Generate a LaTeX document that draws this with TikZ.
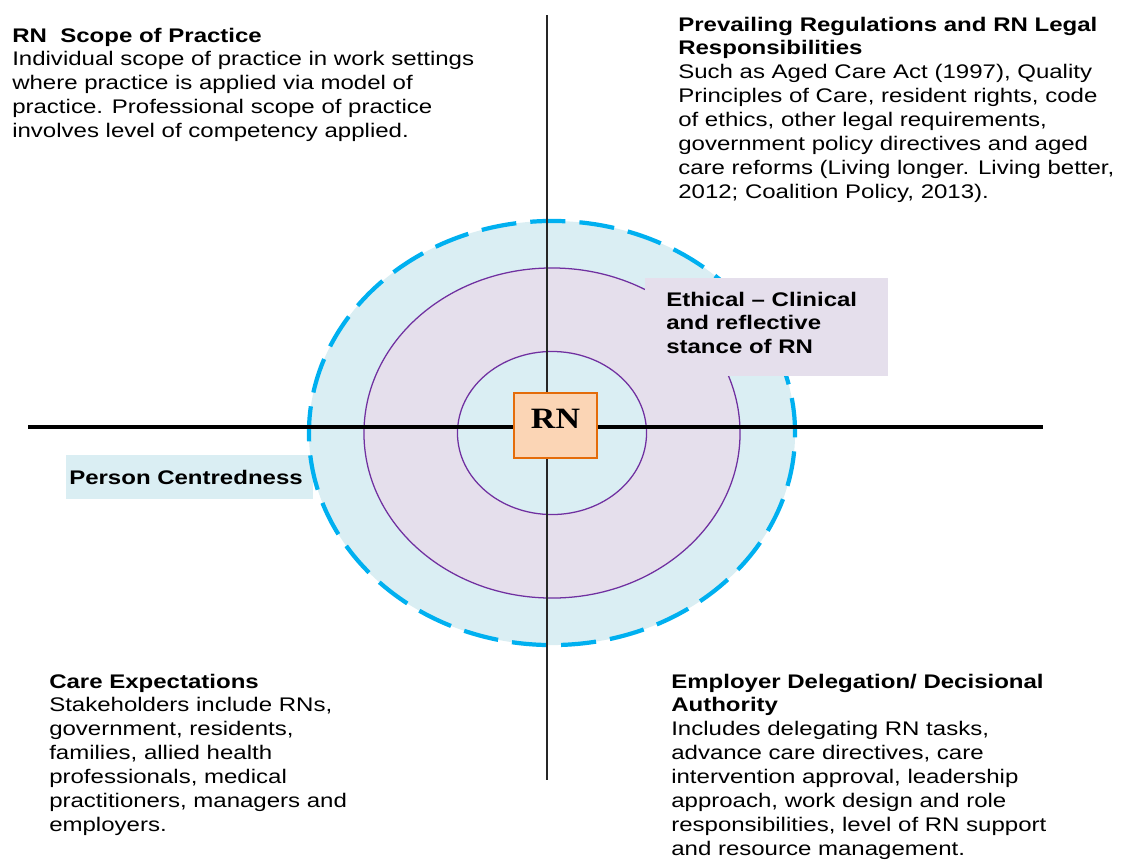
\documentclass[tikz,border=0pt]{standalone}
\usepackage{fontspec}
\setmainfont{Liberation Sans}[FakeStretch=1.22]
\newfontfamily\rnfont{Liberation Serif}[FakeStretch=1.15]
\usetikzlibrary{positioning}
\definecolor{ringblue}{HTML}{DAEEF3}
\definecolor{dashblue}{HTML}{00B0F0}
\definecolor{ringlilac}{HTML}{E5DFEC}
\definecolor{ringpurple}{HTML}{7030A0}
\definecolor{rnfill}{HTML}{FBD5B5}
\definecolor{rnline}{HTML}{E46C0A}
\tikzset{
	quadtext/.style={anchor=north west, inner sep=0pt, align=left, font=\fontsize{14}{17}\selectfont},
	tagbox/.style={inner ysep=0pt, align=left, font=\fontsize{14}{17}\selectfont\bfseries},
	ring/.style={draw=ringpurple, line width=0.9pt}
}

\begin{document}
\begin{tikzpicture}[x=0.025cm, y=-0.025cm]
			%%%%% START %%%%%
			\useasboundingbox (0, 0) rectangle (1128, 863);
			
			\node[tagbox, fill=ringblue, anchor=north west, inner xsep=0.075cm, text width=6.025cm, minimum height=1.1cm] (person) at (66, 455) {Person Centredness};
			
			\draw[fill=ringblue, draw=dashblue, line width=3pt, dash pattern=on 25pt off 10pt] (552, 433) ellipse [x radius=6.075cm, y radius=5.3cm];
			\draw[ring, fill=ringlilac] (552, 433) ellipse [x radius=4.7cm, y radius=4.125cm];
			\draw[ring, fill=ringblue] (552, 433) ellipse [x radius=2.3625cm, y radius=2.0375cm];
			
			\node[fill=ringlilac, anchor=north west, inner sep=0pt, minimum width=6.075cm, minimum height=2.45cm] (ethicbox) at (645, 278) {};
			\node[tagbox, anchor=north west, inner sep=0pt] (ethic) at (666, 291.5) {Ethical -- Clinical\\and reflective\\stance of RN};
			
			% axes
			\coordinate (west) at (28, 427);
			\coordinate (east) at (1043, 427);
			\coordinate (north) at (547, 15);
			\coordinate (south) at (547, 780);
			\draw[line width=2.4pt] (west) -- (east);
			\draw[line width=1.5pt, color=black!85] (north) -- (south);
			
			\node[draw=rnline, fill=rnfill, line width=1.5pt, minimum width=2.075cm, minimum height=1.625cm, text height=15pt, text depth=11.4pt, font=\rnfont\bfseries\fontsize{21}{21}\selectfont] (rn) at (555.5, 425.5) {RN};
			
			% quadrants
			\node[quadtext] (scope) at (12, 27.5) {\textbf{RN\ \ Scope of Practice}\\Individual scope of practice in work settings\\where practice is applied via model of\\practice. Professional scope of practice\\involves level of competency applied.};
			\node[quadtext] (regs) at (678, 16.5) {\textbf{Prevailing Regulations and RN Legal}\\\textbf{Responsibilities}\\Such as Aged Care Act (1997), Quality\\Principles of Care, resident rights, code\\of ethics, other legal requirements,\\government policy directives and aged\\care reforms (Living longer. Living better,\\2012; Coalition Policy, 2013).};
			\node[quadtext] (care) at (49, 673.5) {\textbf{Care Expectations}\\Stakeholders include RNs,\\government, residents,\\families, allied health\\professionals, medical\\practitioners, managers and\\employers.};
			\node[quadtext] (employer) at (671, 673.5) {\textbf{Employer Delegation/ Decisional}\\\textbf{Authority}\\Includes delegating RN tasks,\\advance care directives, care\\intervention approval, leadership\\approach, work design and role\\responsibilities, level of RN support\\and resource management.};
			%%%%% END %%%%%
\end{tikzpicture}
\end{document}
